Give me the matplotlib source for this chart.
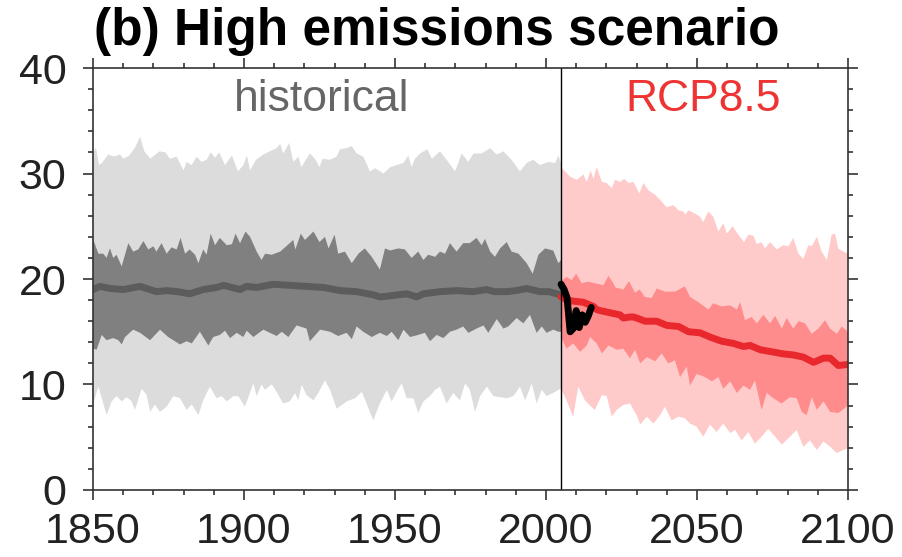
import numpy as np
import matplotlib
matplotlib.use("Agg")
import matplotlib.pyplot as plt
from matplotlib.ticker import MultipleLocator

plt.rcParams['font.family'] = ['Liberation Sans', 'DejaVu Sans']

# ---- historical envelope ----
hist_light_hi_yr = [1850, 1851, 1852, 1853, 1855, 1857, 1859, 1860, 1862, 1864, 1865.6, 1867, 1869, 1872, 1874,
                    1875.5, 1877.7, 1880, 1881, 1882.7, 1884.3, 1886, 1887.6, 1889, 1890.4, 1891.8, 1893.7, 1896,
                    1898, 1899.8, 1901, 1902, 1904, 1906.4, 1908.6, 1910.8, 1912, 1913, 1915, 1916.3, 1918, 1919,
                    1921.8, 1923.5, 1925, 1926, 1928.5, 1930.7, 1931.8, 1934, 1935.7, 1937.3, 1939.5, 1941.7,
                    1943.4, 1946.2, 1948.4, 1950.6, 1952.8, 1954.4, 1955.5, 1956.6, 1958.3, 1960.7, 1962.2,
                    1964.9, 1967.1, 1969.9, 1972.1, 1974.3, 1976, 1978.7, 1981.5, 1983.7, 1985.9, 1988.6, 1991.4,
                    1993.6, 1995.8, 1998, 2000.8, 2003, 2004.1, 2005]
hist_light_hi = [32.0, 32.4, 30.8, 31.0, 31.8, 31.6, 31.8, 31.4, 31.7, 32.5, 33.5, 32.1, 31.4, 32.1, 32.0,
                 31.4, 31.6, 30.3, 31.1, 30.8, 31.6, 31.1, 31.3, 32.0, 31.5, 32.0, 30.8, 31.7,
                 30.2, 30.8, 31.7, 30.3, 31.3, 31.8, 32.1, 32.4, 32.8, 31.9, 32.9, 31.1, 31.6, 30.6,
                 31.9, 31.4, 30.6, 31.4, 31.3, 31.6, 32.3, 32.4, 32.6, 31.9, 31.6, 30.2,
                 30.5, 30.0, 30.6, 30.8, 31.0, 31.7, 30.6, 31.4, 31.9, 32.3, 31.4,
                 32.1, 31.3, 30.2, 31.9, 31.1, 31.9, 31.9, 32.4, 31.8, 32.1, 31.3, 30.2,
                 31.0, 31.3, 30.8, 31.1, 31.0, 31.7, 31.0]

hist_dark_hi_yr = [1850, 1851.8, 1853.4, 1854.5, 1855.6, 1856.7, 1857.8, 1859.5, 1861.7, 1863.3, 1865, 1866.7,
                   1868.3, 1870, 1871, 1872.7, 1874.4, 1876, 1877.7, 1879, 1880.5, 1882, 1883.8, 1884.9, 1886.5,
                   1887.6, 1889, 1890.4, 1892, 1894.3, 1896, 1897.2, 1898.7, 1900.5, 1902, 1904.2, 1905.8, 1907,
                   1909.2, 1912, 1914, 1916.3, 1917, 1918.8, 1920.2, 1923, 1925, 1926.8, 1928, 1930, 1931.2,
                   1933.4, 1935.7, 1937.9, 1940, 1942.3, 1945, 1946.7, 1948.4, 1951.1, 1953.3, 1955.5, 1957.7,
                   1959.4, 1961, 1963.3, 1964.9, 1966.6, 1968.2, 1970.4, 1972.6, 1974.8, 1977, 1978.7, 1979.8,
                   1981.5, 1983.1, 1984.8, 1987, 1988.6, 1990.9, 1993.6, 1995.6, 1997.5, 1999.7, 2002.4, 2004.1,
                   2005]
hist_dark_hi = [23.8, 22.4, 22.4, 22.0, 22.9, 22.0, 22.3, 21.2, 23.4, 22.6, 22.8, 23.6,
                22.8, 23.1, 22.6, 23.4, 22.4, 23.0, 22.8, 23.9, 22.4, 22.8, 22.3, 21.5, 22.8,
                22.3, 24.3, 23.2, 23.9, 23.2, 23.3, 24.3, 23.4, 24.5, 24.0, 22.6, 21.8, 22.4,
                22.3, 22.6, 23.1, 23.7, 22.8, 24.3, 23.7, 24.5, 23.5, 24.0, 22.9, 24.2, 22.4,
                22.6, 21.5, 22.4, 22.9, 22.1, 20.9, 22.9, 22.7, 22.9, 22.8, 22.0, 22.6,
                21.8, 22.3, 22.1, 22.6, 22.4, 23.4, 22.6, 23.4, 23.4, 23.9, 23.2, 23.8,
                22.6, 22.1, 22.9, 23.5, 22.6, 22.4, 21.5, 20.5, 22.3, 22.9, 22.7, 21.5,
                21.8]

hist_mean_yr = [1850, 1852.3, 1855.6, 1860, 1865.6, 1871, 1874.4, 1878, 1882, 1886.5, 1891, 1893.2, 1898.7,
                1900.9, 1904.2, 1909.7, 1915.2, 1920.7, 1926.3, 1931.8, 1937.3, 1942.8, 1945, 1948.3, 1953.9,
                1957.2, 1959.4, 1964.9, 1970.4, 1975.9, 1980.3, 1983, 1987, 1990, 1993.6, 1998, 2001, 2003.5,
                2005]
hist_mean = [19.0, 19.3, 19.1, 19.0, 19.3, 18.8, 18.9, 18.8, 18.6, 19.0, 19.2, 19.4, 19.0,
             19.3, 19.2, 19.5, 19.4, 19.3, 19.2, 18.9, 18.8, 18.5, 18.3, 18.4, 18.6,
             18.3, 18.6, 18.8, 18.9, 18.8, 19.0, 18.8, 18.8, 18.9, 19.1, 18.8, 18.8, 18.6,
             18.5]

hist_dark_lo_yr = [1850, 1851.2, 1852.9, 1854.5, 1856.7, 1858.4, 1859.5, 1860.6, 1863.3, 1865.6, 1868.9, 1872.2,
                   1874.9, 1878.8, 1881, 1882.7, 1885.4, 1888.2, 1889.8, 1892, 1893.7, 1895.4, 1897.6, 1899.8,
                   1900.9, 1903.1, 1906.4, 1908.6, 1910.8, 1912.5, 1914.7, 1917.4, 1920.7, 1921.8, 1925.2,
                   1928.5, 1931.2, 1934, 1935.7, 1937.3, 1939.5, 1942.3, 1945, 1947.3, 1948.9, 1951.1, 1952.8,
                   1955, 1957.7, 1959.9, 1961.6, 1963.8, 1966, 1968.2, 1970.4, 1972.6, 1974.3, 1977, 1979.3,
                   1980.9, 1983.7, 1985.9, 1987.5, 1990.3, 1992.5, 1994.7, 1996.9, 1998.6, 2000.2, 2002.4,
                   2004.1, 2005]
hist_dark_lo = [13.4, 13.3, 14.7, 14.2, 14.4, 14.2, 13.8, 14.5, 15.2, 14.9, 14.2, 15.2,
                14.5, 13.8, 14.1, 13.9, 15.0, 13.7, 14.5, 14.7, 15.1, 14.4, 14.9, 14.5,
                15.1, 14.5, 15.2, 14.9, 14.6, 15.0, 14.5, 15.6, 15.3, 14.1, 15.2,
                15.0, 14.6, 14.9, 14.3, 15.5, 15.0, 14.5, 14.9, 14.6, 15.0, 14.2, 15.2,
                14.5, 14.7, 14.9, 14.1, 14.7, 14.4, 15.0, 15.2, 15.5, 14.9, 15.3, 15.6,
                14.9, 16.2, 15.3, 15.5, 16.3, 15.8, 16.6, 14.9, 15.5, 14.9, 15.2,
                15.0, 15.0]

hist_light_lo_yr = [1850, 1851.8, 1854.5, 1856.2, 1857.8, 1859.5, 1861.1, 1862.8, 1863.9, 1866.1, 1867.8, 1868.9,
                    1870.5, 1872.2, 1874.4, 1876.6, 1878.8, 1881, 1882.7, 1884.9, 1886.5, 1888.7, 1890.9,
                    1892.6, 1894.3, 1896.5, 1898.1, 1900.3, 1903.1, 1904.2, 1905.8, 1906.9, 1909.2, 1910.8,
                    1913, 1915.2, 1916.9, 1918, 1919.1, 1920.7, 1923, 1924.6, 1926.8, 1928.5, 1930.7, 1934,
                    1936.8, 1939, 1940.6, 1942.8, 1945, 1947.3, 1948.9, 1951.1, 1952.2, 1953.9, 1956.1,
                    1957.7, 1959.4, 1961.6, 1963.3, 1964.9, 1967.1, 1969.3, 1971.5, 1973.2, 1974.8, 1976.5,
                    1978.2, 1980.4, 1982.6, 1984.8, 1987, 1989.2, 1991.4, 1993.1, 1995.3, 1996.9, 1998.6,
                    2000.2, 2002.4, 2004.1, 2005]
hist_light_lo = [8.1, 9.8, 7.1, 8.4, 8.9, 8.4, 8.8, 8.4, 7.6, 9.6, 9.0, 7.4,
                 8.1, 7.4, 7.9, 8.9, 8.7, 7.6, 8.1, 7.1, 8.5, 9.8, 8.7,
                 8.9, 8.4, 8.9, 8.9, 7.9, 10.1, 8.9, 10.0, 9.5, 10.0, 9.3,
                 8.2, 8.4, 9.2, 8.5, 10.0, 9.0, 8.5, 9.2, 10.4, 9.5, 7.7, 8.4,
                 8.7, 9.3, 8.2, 6.6, 8.2, 9.5, 8.4, 9.6, 10.1, 8.7, 8.7,
                 7.3, 8.4, 8.9, 9.5, 9.8, 8.2, 9.2, 8.5, 10.1, 9.5, 7.4,
                 8.9, 9.8, 8.9, 8.8, 8.7, 8.9, 9.8, 8.5, 10.1, 8.2, 9.5,
                 8.9, 9.2, 9.5, 9.6]

# ---- RCP8.5 envelope ----
rcp_light_hi_yr = [2005, 2008, 2010.2, 2012.4, 2013.5, 2014.8, 2015.7, 2016.8, 2018.5, 2020.1, 2021.8, 2022.9,
                   2024.5, 2025.9, 2027.3, 2029, 2030.9, 2032.3, 2033.9, 2036.1, 2037.8, 2040, 2042.2, 2043.9,
                   2045.5, 2046.1, 2047.2, 2049.4, 2051, 2052.1, 2053.8, 2055.4, 2057.1, 2058.7, 2059.9,
                   2061.8, 2063.7, 2065.6, 2067, 2068.7, 2069.8, 2071.4, 2072.5, 2074.2, 2076.4, 2078.6,
                   2080.3, 2081.9, 2083.6, 2085.2, 2086.9, 2088, 2089.7, 2091.3, 2093, 2094.6, 2095.7, 2096.8,
                   2098.5, 2100]
rcp_light_hi = [30.6, 29.7, 29.4, 29.9, 29.2, 30.3, 29.5, 30.6, 29.2, 29.1, 28.6, 29.4,
                29.2, 29.5, 29.1, 29.2, 28.1, 29.1, 28.4, 28.0, 27.5, 26.8, 27.0, 26.5,
                26.4, 26.1, 26.5, 26.2, 25.9, 25.4, 26.4, 25.9, 24.5, 25.3, 24.3,
                25.0, 24.2, 23.5, 24.2, 24.1, 23.3, 23.5, 22.9, 23.5, 22.8, 23.2,
                23.1, 23.9, 22.4, 21.9, 23.2, 23.1, 24.0, 22.6, 21.8, 24.2, 24.3, 22.9,
                22.6, 22.4]

rcp_dark_hi_yr = [2005, 2006.8, 2008.5, 2010, 2011.8, 2014, 2016.2, 2017.9, 2019, 2020.7, 2022.3, 2023,
                  2025.6, 2027.5, 2029.5, 2031, 2032.8, 2035, 2036.7, 2039.4, 2042.7, 2046, 2047.7, 2050.5,
                  2053.8, 2055.4, 2058.2, 2061, 2063.2, 2064.3, 2065.9, 2068.1, 2069.8, 2072, 2074.2, 2075.9,
                  2078.1, 2079.7, 2081.9, 2083.6, 2085.8, 2088, 2090.2, 2092.4, 2094.1, 2096.3, 2097.9, 2100]
rcp_dark_hi = [19.8, 20.2, 19.9, 20.5, 19.6, 19.75, 19.6, 19.5, 19.4, 20.3, 19.6, 19.2,
               19.0, 19.8, 18.7, 19.0, 18.3, 18.2, 19.1, 18.8, 18.8, 19.3, 18.3, 17.8,
               17.1, 17.7, 17.4, 17.5, 17.1, 17.8, 16.1, 16.4, 15.8, 16.6, 15.8, 16.5,
               15.3, 16.3, 15.3, 16.0, 15.8, 14.8, 15.3, 16.1, 15.3, 14.8, 15.5, 15.0]

rcp_mean_yr = [2005, 2007, 2009, 2012.3, 2015.7, 2016.8, 2018, 2021.2, 2024.5, 2025.6, 2027.8, 2029, 2031,
               2032.8, 2034.4, 2036.7, 2040, 2043.9, 2047.2, 2051, 2054.3, 2058.2, 2062, 2065.4, 2067.6,
               2070.9, 2074.8, 2078.6, 2081.9, 2085.2, 2088.6, 2091.9, 2094.1, 2096.8, 2100]
rcp_mean = [18.3, 18.0, 17.9, 17.8, 17.4, 17.1, 17.0, 16.8, 16.6, 16.3, 16.4, 16.4, 16.2,
            16.0, 16.0, 16.0, 15.6, 15.5, 15.0, 14.9, 14.5, 14.1, 13.9, 13.6, 13.7,
            13.3, 13.1, 12.9, 12.8, 12.6, 12.1, 12.5, 12.5, 11.8, 11.9]

rcp_dark_lo_yr = [2005, 2006.8, 2009, 2011.3, 2013.5, 2014.6, 2016.8, 2018.5, 2020.7, 2023.4, 2025.6, 2027.8,
                  2029.5, 2031.2, 2033.4, 2036.1, 2038.3, 2040.5, 2042.7, 2044.4, 2046.6, 2047.7, 2049.9,
                  2052.7, 2054.9, 2057.1, 2058.7, 2061, 2063.2, 2065.4, 2067.6, 2069.2, 2071.4, 2073.1,
                  2075.3, 2078, 2080.8, 2083, 2084.7, 2086.3, 2088, 2089.7, 2091.9, 2094.1, 2096.8, 2100]
rcp_dark_lo = [14.5, 13.4, 13.9, 13.1, 13.7, 14.5, 13.9, 12.95, 13.7, 13.3, 13.4, 12.5,
               13.3, 12.0, 12.6, 12.2, 12.95, 12.0, 12.3, 10.7, 11.7, 9.9, 11.0,
               10.7, 10.3, 10.7, 9.6, 10.3, 9.2, 9.9, 9.5, 10.4, 7.6, 9.2,
               8.7, 8.2, 8.8, 8.7, 7.4, 7.1, 8.8, 7.6, 8.4, 7.4, 7.3, 8.0]

rcp_light_lo_yr = [2005, 2006.8, 2009, 2010.7, 2012.9, 2014.6, 2016.2, 2018.5, 2020.1, 2021.8, 2023.4, 2025.6,
                   2027.8, 2030, 2031.2, 2033.4, 2035.6, 2037.8, 2039.4, 2041.6, 2043.9, 2046, 2047.7,
                   2049.9, 2052.1, 2054.3, 2056.5, 2058.7, 2061, 2062.6, 2064.8, 2067, 2069.2, 2071.4,
                   2073.6, 2075.9, 2078.1, 2080.8, 2083, 2085.2, 2087.4, 2089.7, 2091.9, 2094.1, 2096.3,
                   2098.5, 2100]
rcp_light_lo = [9.6, 8.5, 6.95, 9.8, 8.5, 8.0, 7.6, 9.0, 8.9, 6.95, 7.6, 8.05,
                8.2, 7.1, 6.2, 6.95, 6.3, 7.1, 7.9, 6.6, 6.95, 6.8, 6.3,
                6.0, 5.05, 6.2, 5.5, 6.3, 5.4, 5.7, 4.7, 5.5, 4.4, 5.05,
                5.8, 5.05, 4.3, 5.05, 5.7, 4.1, 4.7, 3.8, 4.6, 4.1, 3.5,
                3.8, 3.95]

# ---- observations ----
obs_yr = [2005, 2006, 2007, 2008, 2009, 2010, 2011, 2012, 2013, 2014, 2015]
obs = [19.5, 19.0, 18.2, 15.0, 15.3, 17.0, 15.4, 16.6, 15.9, 16.5, 17.3]


def band(ax, x_hi, y_hi, x_lo, y_lo, color):
    xs = np.r_[x_hi, x_lo[::-1]]
    ys = np.r_[y_hi, y_lo[::-1]]
    ax.fill(xs, ys, color=color, lw=0)


fig = plt.figure(figsize=(9.02, 5.57), dpi=100)
ax = fig.add_axes([0.1031, 0.1203, 0.8370, 0.7576])

band(ax, hist_light_hi_yr, hist_light_hi, hist_light_lo_yr, hist_light_lo, '#dcdcdc')
band(ax, hist_dark_hi_yr, hist_dark_hi, hist_dark_lo_yr, hist_dark_lo, '#808080')
band(ax, rcp_light_hi_yr, rcp_light_hi, rcp_light_lo_yr, rcp_light_lo, '#ffcaca')
band(ax, rcp_dark_hi_yr, rcp_dark_hi, rcp_dark_lo_yr, rcp_dark_lo, '#ff8c8c')

ax.plot(hist_mean_yr, hist_mean, color='#5c5c5c', lw=5, solid_capstyle='round')
ax.plot(rcp_mean_yr, rcp_mean, color='#e8282c', lw=5, solid_capstyle='round')
ax.axvline(2005, color='black', lw=1.0)
ax.plot(obs_yr, obs, color='black', lw=5, solid_capstyle='round', solid_joinstyle='round')

ax.set_xlim(1850, 2100)
ax.set_ylim(0, 40)
ax.xaxis.set_major_locator(MultipleLocator(50))
ax.xaxis.set_minor_locator(MultipleLocator(10))
ax.yaxis.set_major_locator(MultipleLocator(10))
ax.yaxis.set_minor_locator(MultipleLocator(2))
ax.tick_params(which='both', direction='out', top=True, right=True, colors='#333333', width=1.2,
               labelsize=31, labelcolor='#222222')
ax.tick_params(which='major', length=7)
ax.tick_params(which='minor', length=3.5)
ax.tick_params(axis='x', pad=9)
ax.tick_params(axis='y', pad=12)
for s in ax.spines.values():
    s.set_color('#333333')
    s.set_linewidth(1.2)

ax.text(1925.8, 37, 'historical', color='#666666', fontsize=32, ha='center', va='center')
ax.text(2052, 37, 'RCP8.5', color='#ee3333', fontsize=32, ha='center', va='center')

fig.text(0.104, 1 - 45 / 557, '(b) High emissions scenario', fontsize=37, fontweight='bold',
         ha='left', va='baseline', color='black')

fig.savefig('out.png', dpi=100)
